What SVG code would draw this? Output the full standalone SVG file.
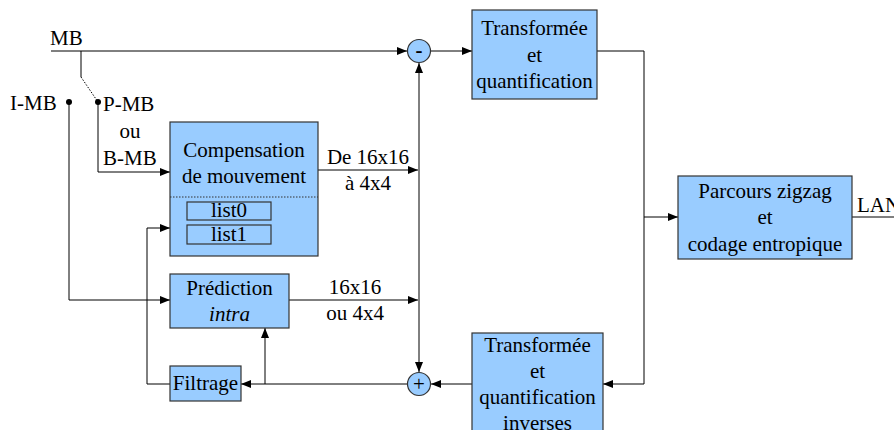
<svg xmlns="http://www.w3.org/2000/svg" width="894" height="430" viewBox="0 0 894 430">
<style>
text{font-family:"Liberation Serif","Times New Roman",serif;font-size:21px;fill:#000}
.c{text-anchor:middle}
.box{fill:#99ccff;stroke:#333;stroke-width:1.2}
.ln{fill:none;stroke:#000;stroke-width:1}
.arr{marker-end:url(#ah)}
</style>
<defs>
<marker id="ah" viewBox="0 0 10 8" refX="10" refY="4" markerWidth="10" markerHeight="8" markerUnits="userSpaceOnUse" orient="auto">
<path d="M0,0 L10,4 L0,8 z" fill="#000"/>
</marker>
</defs>
<rect width="894" height="430" fill="#fff"/>
<g id="connectors">
<path class="ln arr" d="M51,51 H407"/>
<path class="ln" d="M81,51 V77"/>
<path class="ln" d="M81,77 L98,102" stroke-dasharray="1.5,1.5"/>
<path class="ln arr" d="M69,102 V300 H170"/>
<path class="ln arr" d="M98,102 V172 H170"/>
<path class="ln arr" d="M318,170 H418"/>
<path class="ln arr" d="M289,300 H418"/>
<path class="ln arr" d="M419,200 V63"/>
<path class="ln arr" d="M419,200 V372"/>
<path class="ln arr" d="M407,384 H241"/>
<path class="ln arr" d="M265,384 V328"/>
<path class="ln arr" d="M170,384 H147 V228 H170"/>
<path class="ln arr" d="M431,51 H472"/>
<path class="ln arr" d="M597,51 H644 V384 H603"/>
<path class="ln arr" d="M644,217 H678"/>
<path class="ln arr" d="M472,384 H431"/>
<path class="ln" d="M852,217 H894"/>
<circle cx="69" cy="102" r="3" fill="#000"/>
<circle cx="98" cy="102" r="3" fill="#000"/>
</g>
<g id="labels">
<text x="50" y="45">MB</text>
<text x="10" y="110">I-MB</text>
<text x="103" y="111">P-MB</text>
<text class="c" x="130" y="138">ou</text>
<text x="103" y="165">B-MB</text>
<text class="c" x="368" y="164">De 16x16</text>
<text class="c" x="368" y="190">à 4x4</text>
<text class="c" x="355" y="294">16x16</text>
<text class="c" x="355" y="320">ou 4x4</text>
<text x="857" y="212">LAN</text>
</g>
<g id="compensation">
<rect class="box" x="170" y="122" width="148" height="134"/>
<text class="c" x="244" y="157">Compensation</text>
<text class="c" x="244" y="183">de mouvement</text>
<line x1="170" y1="197" x2="318" y2="197" stroke="#333" stroke-width="1" stroke-dasharray="1.5,1.5"/>
<rect x="187" y="202" width="84" height="18" fill="none" stroke="#333" stroke-width="1.2"/>
<text class="c" x="229" y="217">list0</text>
<rect x="187" y="225" width="84" height="19" fill="none" stroke="#333" stroke-width="1.2"/>
<text class="c" x="229" y="241">list1</text>
</g>
<g id="prediction">
<rect class="box" x="170" y="274" width="119" height="54"/>
<text class="c" x="229.5" y="295">Prédiction</text>
<text class="c" x="229.5" y="321" font-style="italic">intra</text>
</g>
<g id="filtrage">
<rect class="box" x="170" y="366" width="71" height="35"/>
<text class="c" x="205.5" y="390">Filtrage</text>
</g>
<g id="sub">
<circle class="box" cx="419" cy="51" r="11.5"/>
<text class="c" x="419" y="57" font-weight="bold">-</text>
</g>
<g id="add">
<circle class="box" cx="419" cy="384" r="11.5"/>
<text class="c" x="419" y="391">+</text>
</g>
<g id="transform">
<rect class="box" x="472" y="10" width="125" height="89"/>
<text class="c" x="534.5" y="35">Transformée</text>
<text class="c" x="534.5" y="62">et</text>
<text class="c" x="534.5" y="88">quantification</text>
</g>
<g id="inverse">
<rect class="box" x="472" y="333" width="131" height="110"/>
<text class="c" x="537.5" y="352">Transformée</text>
<text class="c" x="537.5" y="378">et</text>
<text class="c" x="537.5" y="404">quantification</text>
<text class="c" x="537.5" y="430">inverses</text>
</g>
<g id="entropy">
<rect class="box" x="678" y="176" width="174" height="83"/>
<text class="c" x="765" y="198">Parcours zigzag</text>
<text class="c" x="765" y="224">et</text>
<text class="c" x="765" y="251">codage entropique</text>
</g>
</svg>
